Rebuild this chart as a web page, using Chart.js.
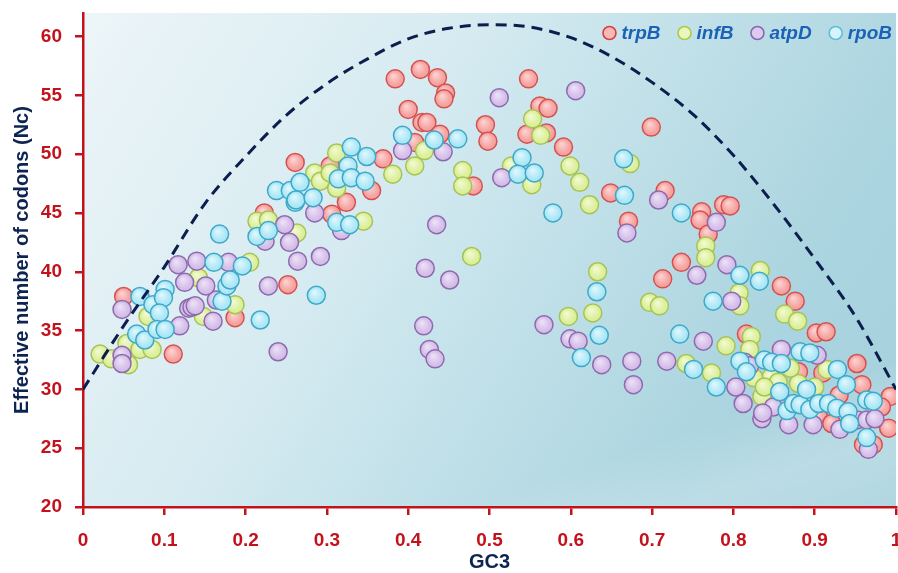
<!DOCTYPE html>
<html>
<head>
<meta charset="utf-8">
<script src="https://cdn.jsdelivr.net/npm/chart.js@4.4.1/dist/chart.umd.min.js"></script>
<style>
html,body{margin:0;padding:0;background:#fff;overflow:hidden}
#wrap{position:relative;width:898px;height:573px}
</style>
</head>
<body>
<div id="wrap"><canvas id="c" width="898" height="573"></canvas></div>
<script>
// ---- data ----
const seriesNames = ['trpB', 'infB', 'atpD', 'rpoB'];

const trpB = [
[0.050,37.9],[0.111,33.0],[0.187,36.1],[0.252,38.9],[0.223,45.0],[0.261,49.3],[0.304,49.0],[0.306,44.9],
[0.324,45.9],[0.355,46.9],[0.369,49.6],[0.384,56.4],[0.415,57.2],[0.436,56.5],[0.446,55.2],[0.444,54.7],
[0.400,53.8],[0.417,52.7],[0.423,52.7],[0.439,51.7],[0.408,51.0],[0.480,47.3],[0.495,52.5],[0.498,51.1],
[0.548,56.4],[0.546,51.7],[0.562,54.1],[0.572,53.9],[0.570,51.8],[0.591,50.6],[0.649,46.7],[0.699,52.3],
[0.716,46.9],[0.671,44.3],[0.761,45.1],[0.759,44.4],[0.788,45.7],[0.796,45.6],[0.769,43.2],[0.736,40.8],
[0.713,39.4],[0.859,38.8],[0.876,37.5],[0.816,34.7],[0.902,34.8],[0.914,34.9],[0.952,32.2],[0.958,30.4],
[0.993,29.4],[0.982,28.5],[0.991,26.7],[0.960,25.3],[0.972,25.3],[0.905,27.6],[0.930,29.5],[0.880,31.5],
[0.860,29.0],[0.921,27.1],[0.910,31.4]
];

const infB = [
[0.021,33.0],[0.035,32.6],[0.056,32.1],[0.054,33.9],[0.070,33.4],[0.085,33.4],[0.080,36.2],[0.148,36.2],
[0.187,37.2],[0.142,39.5],[0.205,40.8],[0.214,44.3],[0.228,44.4],[0.263,43.3],[0.312,50.1],[0.285,48.4],
[0.292,47.7],[0.304,48.4],[0.312,47.1],[0.345,44.3],[0.381,48.3],[0.420,50.3],[0.408,49.0],[0.467,48.6],
[0.467,47.3],[0.478,41.3],[0.527,49.0],[0.553,53.0],[0.563,51.6],[0.552,47.4],[0.599,49.0],[0.611,47.6],
[0.623,45.7],[0.673,49.2],[0.633,40.0],[0.627,36.5],[0.597,36.2],[0.697,37.4],[0.709,37.1],[0.766,42.2],
[0.766,41.2],[0.807,38.2],[0.808,37.1],[0.833,40.1],[0.863,36.4],[0.879,35.8],[0.791,33.7],[0.742,32.2],
[0.773,31.4],[0.822,34.5],[0.820,33.4],[0.835,29.4],[0.915,31.7],[0.846,31.0],[0.855,30.6],[0.880,30.5],
[0.900,30.2],[0.825,31.0],[0.870,31.8],[0.838,30.2]
];

const atpD = [
[0.048,32.9],[0.048,32.2],[0.048,36.8],[0.119,35.4],[0.130,36.9],[0.134,37.0],[0.138,37.1],[0.160,35.8],
[0.164,37.6],[0.117,40.6],[0.140,40.9],[0.179,40.8],[0.125,39.1],[0.151,38.8],[0.240,33.2],[0.228,38.8],
[0.224,42.6],[0.248,44.0],[0.254,42.5],[0.264,40.9],[0.285,45.0],[0.292,41.3],[0.318,43.5],[0.393,50.3],
[0.443,50.2],[0.512,54.8],[0.435,44.0],[0.515,48.0],[0.421,40.3],[0.451,39.3],[0.419,35.4],[0.426,33.4],
[0.433,32.6],[0.606,55.4],[0.567,35.5],[0.599,34.3],[0.609,34.1],[0.638,32.1],[0.675,32.4],[0.677,30.4],
[0.718,32.4],[0.708,46.1],[0.779,44.2],[0.669,43.3],[0.755,39.7],[0.792,40.6],[0.798,37.5],[0.763,34.1],
[0.803,30.2],[0.812,28.8],[0.835,27.5],[0.814,32.3],[0.820,32.0],[0.859,33.4],[0.903,32.9],[0.868,27.0],
[0.898,27.0],[0.931,26.6],[0.952,27.4],[0.964,27.4],[0.974,27.5],[0.966,24.9],[0.849,28.5],[0.836,28.0]
];

const rpoB = [
[0.070,37.9],[0.086,37.2],[0.101,38.5],[0.099,37.8],[0.094,36.5],[0.066,34.7],[0.076,34.2],[0.091,35.1],
[0.101,35.1],[0.171,37.5],[0.177,38.8],[0.181,39.3],[0.161,40.8],[0.196,40.5],[0.218,35.9],[0.168,43.2],
[0.214,43.0],[0.228,43.5],[0.261,45.9],[0.238,46.9],[0.255,46.9],[0.267,47.6],[0.262,46.1],[0.283,46.3],
[0.330,50.6],[0.349,49.8],[0.326,49.0],[0.314,47.9],[0.330,48.0],[0.347,47.7],[0.312,44.2],[0.328,44.0],
[0.287,38.0],[0.393,51.6],[0.432,51.2],[0.461,51.3],[0.540,49.7],[0.535,48.3],[0.555,48.4],[0.578,45.0],
[0.665,49.6],[0.666,46.5],[0.736,45.0],[0.632,38.3],[0.635,34.6],[0.613,32.7],[0.775,37.5],[0.808,39.7],
[0.832,39.2],[0.734,34.7],[0.751,31.7],[0.779,30.2],[0.808,32.4],[0.816,31.5],[0.838,32.5],[0.847,32.3],
[0.859,32.2],[0.882,33.2],[0.894,33.1],[0.928,31.7],[0.939,30.4],[0.964,29.1],[0.972,29.0],[0.964,25.9],
[0.857,29.8],[0.866,28.2],[0.874,28.8],[0.882,28.7],[0.890,30.0],[0.894,28.3],[0.905,28.8],[0.917,28.8],
[0.927,28.4],[0.941,28.1],[0.943,27.1]
];

// expected curve (dashed)
const curveX = [0,0.05,0.1,0.15,0.2,0.25,0.3,0.35,0.4,0.45,0.5,0.55,0.6,0.65,0.7,0.75,0.8,0.85,0.9,0.95,1];
const curveY = [30.0,35.4,40.4,45.8,49.8,53.3,56.0,58.1,59.8,60.7,61.0,60.8,59.9,58.3,56.1,53.4,49.9,45.7,41.1,36.2,30.0];

const xTicks = [0,0.1,0.2,0.3,0.4,0.5,0.6,0.7,0.8,0.9,1];
const xTickLabels = ['0','0.1','0.2','0.3','0.4','0.5','0.6','0.7','0.8','0.9','1'];
const yTicks = [20,25,30,35,40,45,50,55,60];

// ---- styles ----
const AX = '#c4121c';
const NAVY = '#0d2453';
const fills   = ['#f5a2a0', '#dcef9a', '#d5bee9', '#ace7f6'];
const lights  = ['#fcd0ce', '#f0f9cf', '#ebdff6', '#dcf6fc'];
const strokes = ['#d4514f', '#a6c355', '#8c6aac', '#3ea8c8'];
const legFill = ['#f8b8b6', '#eaf6bb', '#dccbee', '#d4f3fa'];
const legStroke = ['#d8403e', '#acc94c', '#8a68b0', '#62bdd8'];
const FONT = '"Liberation Sans", Arial, sans-serif';

const toXY = arr => arr.map(p => ({x: p[0], y: p[1]}));
const seriesData = [trpB, infB, atpD, rpoB];

function markerFill(i) {
  return function(c) {
    if (!c.parsed || !c.chart.scales.x) return fills[i];
    const px = c.chart.scales.x.getPixelForValue(c.parsed.x);
    const py = c.chart.scales.y.getPixelForValue(c.parsed.y);
    if (!isFinite(px) || !isFinite(py)) return fills[i];
    const g = c.chart.ctx.createRadialGradient(px - 2, py - 3, 1, px, py, 9);
    g.addColorStop(0, lights[i]);
    g.addColorStop(0.75, fills[i]);
    g.addColorStop(1, fills[i]);
    return g;
  };
}

const bgPlugin = {
  id: 'bgPlugin',
  beforeDraw(chart) {
    const {ctx, chartArea: a} = chart;
    ctx.save();
    const g = ctx.createLinearGradient(a.left, a.top, a.right, a.bottom);
    g.addColorStop(0, '#edf5f8');
    g.addColorStop(0.35, '#d6ebf1');
    g.addColorStop(0.6, '#bddee7');
    g.addColorStop(0.8, '#aad4df');
    g.addColorStop(1, '#a6d1dd');
    ctx.fillStyle = g;
    ctx.fillRect(a.left, a.top, a.right - a.left, a.bottom - a.top);
    const cx = 790, cy = 470, nx = 0.32, ny = 0.95, d = 70;
    const g2 = ctx.createLinearGradient(cx - nx * d, cy - ny * d, cx + nx * d, cy + ny * d);
    g2.addColorStop(0, 'rgba(255,255,255,0)');
    g2.addColorStop(0.5, 'rgba(255,255,255,0.22)');
    g2.addColorStop(1, 'rgba(255,255,255,0.12)');
    ctx.fillStyle = g2;
    ctx.fillRect(a.left, a.top, a.right - a.left, a.bottom - a.top);
    ctx.restore();
  }
};

const legendPlugin = {
  id: 'legendPlugin',
  afterDraw(chart) {
    const ctx = chart.ctx;
    ctx.save();
    ctx.font = 'italic bold 19px ' + FONT;
    const pos = [];
    let x = 892;
    for (let i = seriesNames.length - 1; i >= 0; i--) {
      const w = ctx.measureText(seriesNames[i]).width;
      const tx = x - w;
      const cxp = tx - 12;
      pos[i] = {tx, cx: cxp};
      x = cxp - 24;
    }
    for (let i = 0; i < seriesNames.length; i++) {
      ctx.beginPath();
      ctx.arc(pos[i].cx, 33, 6.5, 0, Math.PI * 2);
      ctx.fillStyle = legFill[i];
      ctx.fill();
      ctx.lineWidth = 1.6;
      ctx.strokeStyle = legStroke[i];
      ctx.stroke();
      ctx.fillStyle = '#1b62b5';
      ctx.textBaseline = 'alphabetic';
      ctx.textAlign = 'left';
      ctx.fillText(seriesNames[i], pos[i].tx, 39);
    }
    ctx.restore();
  }
};

const datasets = seriesNames.map((name, i) => ({
  type: 'scatter',
  label: name,
  data: toXY(seriesData[i]),
  backgroundColor: markerFill(i),
  borderColor: strokes[i],
  borderWidth: 1.5,
  pointRadius: 9,
  pointHoverRadius: 9,
  order: 4 - i
}));

datasets.push({
  type: 'line',
  label: 'expected',
  data: curveX.map((v, i) => ({x: v, y: curveY[i]})),
  borderColor: '#0c1e4e',
  borderWidth: 3,
  borderDash: [11, 7],
  pointRadius: 0,
  fill: false,
  cubicInterpolationMode: 'monotone',
  order: 0
});

new Chart(document.getElementById('c'), {
  type: 'scatter',
  data: {datasets},
  plugins: [bgPlugin, legendPlugin],
  options: {
    responsive: false,
    animation: false,
    devicePixelRatio: 1,
    events: [],
    layout: {autoPadding: false, padding: {top: 13, right: 2, left: 0, bottom: 0}},
    plugins: {legend: {display: false}, tooltip: {enabled: false}},
    scales: {
      x: {
        type: 'linear', min: 0, max: 1,
        afterBuildTicks: s => { s.ticks = xTicks.map(v => ({value: v})); },
        afterFit: s => { s.height = 66; s.paddingLeft = 0; s.paddingRight = 0; },
        ticks: {
          callback: (v, i) => xTickLabels[i],
          color: AX, padding: 14, maxRotation: 0, autoSkip: false,
          font: {family: FONT, weight: 'bold', size: 19}
        },
        grid: {drawOnChartArea: false, color: AX, tickColor: AX, lineWidth: 2.5, tickLength: 8},
        border: {color: AX, width: 2.5},
        title: {display: true, text: 'GC3', color: NAVY,
          font: {family: FONT, weight: 'bold', size: 20, lineHeight: 0.9},
          padding: {top: 0, bottom: 2}}
      },
      y: {
        type: 'linear', min: 20, max: 62,
        afterBuildTicks: s => { s.ticks = yTicks.map(v => ({value: v})); },
        afterFit: s => { s.width = 83; s.paddingTop = 0; s.paddingBottom = 0; },
        ticks: {
          color: AX, padding: 13,
          font: {family: FONT, weight: 'bold', size: 19}
        },
        grid: {drawOnChartArea: false, color: AX, tickColor: AX, lineWidth: 2.5, tickLength: 8},
        border: {color: AX, width: 2.5},
        title: {display: true, text: 'Effective number of codons (Nc)', color: NAVY,
          font: {family: FONT, weight: 'bold', size: 20, lineHeight: 0.9},
          padding: {top: 13, bottom: 0}}
      }
    }
  }
});
</script>
</body>
</html>
